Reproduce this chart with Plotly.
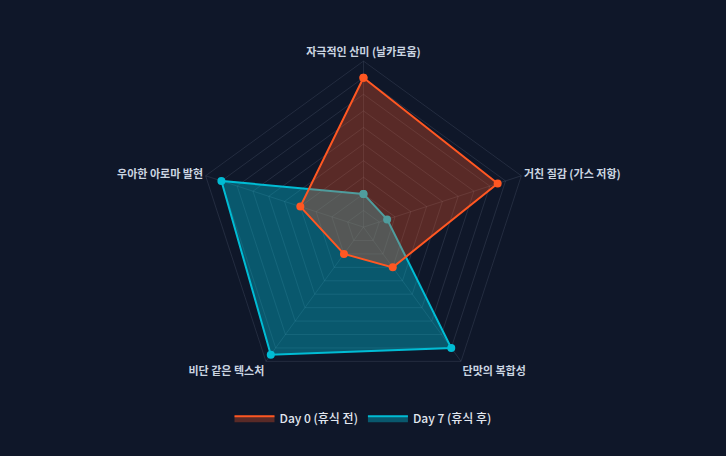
import plotly.graph_objects as go

# 평가 항목 (시계 방향, 위에서 시작)
categories = ['자극적인 산미 (날카로움)', '거친 질감 (가스 저항)', '단맛의 복합성', '비단 같은 텍스처', '우아한 아로마 발현']
day0_values = [9, 8.5, 3, 2, 4]
day7_values = [2, 1.5, 9, 9.5, 9]
series_names = ['Day 0 (휴식 전)', 'Day 7 (휴식 후)']

bg = '#0f1729'
grid_color = 'rgba(148,163,184,0.16)'
font_family = 'Noto Sans CJK KR, Noto Sans, sans-serif'

orange = '#ff5722'
cyan = '#00bcd4'
orange_fill = 'rgba(255,87,34,0.31)'
cyan_fill = 'rgba(0,188,212,0.4)'

fig = go.Figure()

# Day 7 먼저 그려서 Day 0이 위에 오도록
fig.add_trace(go.Scatterpolar(
    r=day7_values + day7_values[:1],
    theta=categories + categories[:1],
    name=series_names[1],
    mode='lines+markers',
    fill='toself',
    fillcolor=cyan_fill,
    line=dict(color=cyan, width=2),
    marker=dict(color=cyan, size=8),
    showlegend=False,
))
fig.add_trace(go.Scatterpolar(
    r=day0_values + day0_values[:1],
    theta=categories + categories[:1],
    name=series_names[0],
    mode='lines+markers',
    fill='toself',
    fillcolor=orange_fill,
    line=dict(color=orange, width=2),
    marker=dict(color=orange, size=8),
    showlegend=False,
))

# 범례용 (사각형 아이콘)
for name, lc, fc in [(series_names[0], orange, orange_fill), (series_names[1], cyan, cyan_fill)]:
    fig.add_trace(go.Scatterpolar(
        r=[None], theta=[categories[0]], name=name,
        mode='lines', fill='toself', fillcolor=fc,
        line=dict(color=lc, width=2), showlegend=True,
    ))

fig.update_layout(
    width=726, height=456,
    paper_bgcolor=bg, plot_bgcolor=bg,
    margin=dict(l=0, r=0, t=0, b=0),
    font=dict(family=font_family, color='#cbd5e1'),
    polar=dict(
        bgcolor=bg,
        gridshape='linear',
        domain=dict(x=[0.2713, 0.7300], y=[0.138, 0.866]),
        radialaxis=dict(range=[0, 10], dtick=1, showticklabels=False, ticks='',
                        showline=False, gridcolor=grid_color, gridwidth=1),
        angularaxis=dict(rotation=90, direction='clockwise', ticks='',
                         showline=True, linecolor=grid_color, gridcolor=grid_color,
                         tickfont=dict(size=11, color='#cbd5e1', family=font_family, weight='bold'),
                         ),
    ),
    legend=dict(orientation='h', x=0.5, xanchor='center', y=0.083, yanchor='middle',
                itemwidth=40,
                font=dict(size=12, color='#e2e8f0', weight=500), bgcolor='rgba(0,0,0,0)'),
    showlegend=True,
)

fig.write_html("out.html", config={'displayModeBar': False},
               post_script="document.body.style.margin='0';document.body.style.background='#0f1729';")
